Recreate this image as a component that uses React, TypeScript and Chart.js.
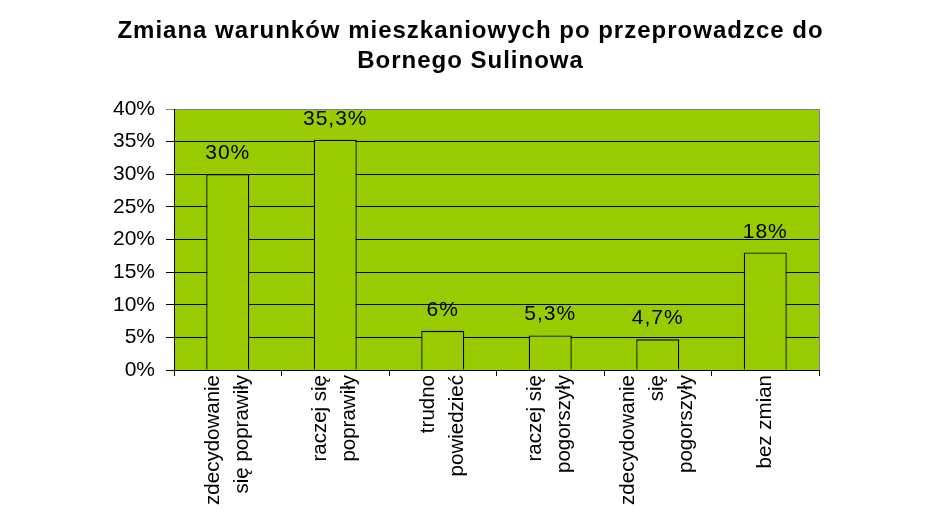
import { useEffect, useRef } from 'react';
import { Chart, registerables } from 'chart.js';

Chart.register(...registerables);

const titleLines = ['Zmiana warunków mieszkaniowych po przeprowadzce do', 'Bornego Sulinowa'];
const categories: string[][] = [
  ['zdecydowanie', 'się poprawiły'],
  ['raczej się', 'poprawiły'],
  ['trudno', 'powiedzieć'],
  ['raczej się', 'pogorszyły'],
  ['zdecydowanie', 'się', 'pogorszyły'],
  ['bez zmian'],
];
const values = [30, 35.3, 6, 5.3, 4.7, 18];
const valueLabels = ['30%', '35,3%', '6%', '5,3%', '4,7%', '18%'];
const yMax = 40;
const yStep = 5;

const FONT = 'Arial, "Liberation Sans", sans-serif';
const GREEN = '#99CC00';

const plotBg = {
  id: 'plotBg',
  beforeDraw(chart: any) {
    const { ctx, chartArea: a } = chart;
    ctx.save();
    ctx.fillStyle = GREEN;
    ctx.fillRect(a.left, a.top, a.right - a.left, a.bottom - a.top);
    ctx.restore();
  },
  afterDatasetsDraw(chart: any) {
    const { ctx, chartArea: a } = chart;
    ctx.save();
    ctx.strokeStyle = '#808080';
    ctx.lineWidth = 1;
    ctx.beginPath();
    ctx.moveTo(Math.round(a.right) + 0.5, a.top);
    ctx.lineTo(Math.round(a.right) + 0.5, a.bottom);
    ctx.stroke();
    ctx.restore();
  },
};

const textPlugin = {
  id: 'texts',
  afterDraw(chart: any) {
    const { ctx, width } = chart;
    ctx.save();
    ctx.fillStyle = '#000';
    // Title
    ctx.font = `bold 24px ${FONT}`;
    (ctx as any).letterSpacing = '1px';
    ctx.textAlign = 'center';
    ctx.textBaseline = 'middle';
    titleLines.forEach((line, i) => {
      ctx.fillText(line, width / 2, 31 + i * 30);
    });
    // Value labels
    ctx.font = `21px ${FONT}`;
    (ctx as any).letterSpacing = '1px';
    ctx.textBaseline = 'alphabetic';
    const meta = chart.getDatasetMeta(0);
    meta.data.forEach((bar: any, i: number) => {
      ctx.fillText(valueLabels[i], bar.x, bar.y - 15);
    });
    // Category labels (rotated)
    (ctx as any).letterSpacing = '0px';
    ctx.font = `20.5px ${FONT}`;
    ctx.textAlign = 'right';
    ctx.textBaseline = 'middle';
    const xScale = chart.scales.x;
    const top = chart.chartArea.bottom + 5;
    const spacing = 29;
    categories.forEach((lines, i) => {
      const cx = xScale.getPixelForValue(i);
      const n = lines.length;
      lines.forEach((line, j) => {
        const x = cx + (j - (n - 1) / 2) * spacing;
        ctx.save();
        ctx.translate(x, top);
        ctx.rotate(-Math.PI / 2);
        ctx.fillText(line, 0, 0);
        ctx.restore();
      });
    });
    ctx.restore();
  },
};

export default function App() {
  const ref = useRef<HTMLCanvasElement>(null);
  useEffect(() => {
    document.body.style.margin = '0';
    document.body.style.background = '#fff';
    const chart = new Chart(ref.current!, {
      type: 'bar',
      data: {
        labels: categories.map((l) => l.join(' ')),
        datasets: [
          {
            data: values,
            backgroundColor: GREEN,
            borderColor: '#000',
            borderWidth: 1.3,
            barPercentage: 0.4,
            categoryPercentage: 1,
          },
        ],
      },
      options: {
        animation: false,
        responsive: false,
        maintainAspectRatio: false,
        layout: { padding: { left: 0, right: 122, top: 109, bottom: 0 } },
        plugins: {
          legend: { display: false },
          tooltip: { enabled: false },
          title: { display: false },
        },
        scales: {
          x: {
            offset: true,
            grid: {
              display: true,
              drawOnChartArea: false,
              drawTicks: true,
              tickLength: 6,
              color: '#000',
              offset: true,
            },
            border: { display: true, color: '#000', width: 1 },
            ticks: { display: false },
            afterFit(scale: any) {
              scale.height = 146;
            },
          },
          y: {
            min: 0,
            max: yMax,
            grid: {
              color: (c: any) => (c.tick && c.tick.value === yMax ? '#808080' : '#000'),
              lineWidth: 1,
              drawTicks: true,
              tickLength: 8,
            },
            border: { display: true, color: '#000', width: 1 },
            ticks: {
              stepSize: yStep,
              color: '#000',
              font: { family: FONT, size: 21 },
              padding: 11,
              callback: (v: any) => `${v}%`,
            },
            afterFit(scale: any) {
              scale.width = 174;
            },
          },
        },
      },
      plugins: [plotBg, textPlugin],
    } as any);
    return () => chart.destroy();
  }, []);
  return <canvas ref={ref} width={941} height={516} style={{ display: 'block' }} />;
}
